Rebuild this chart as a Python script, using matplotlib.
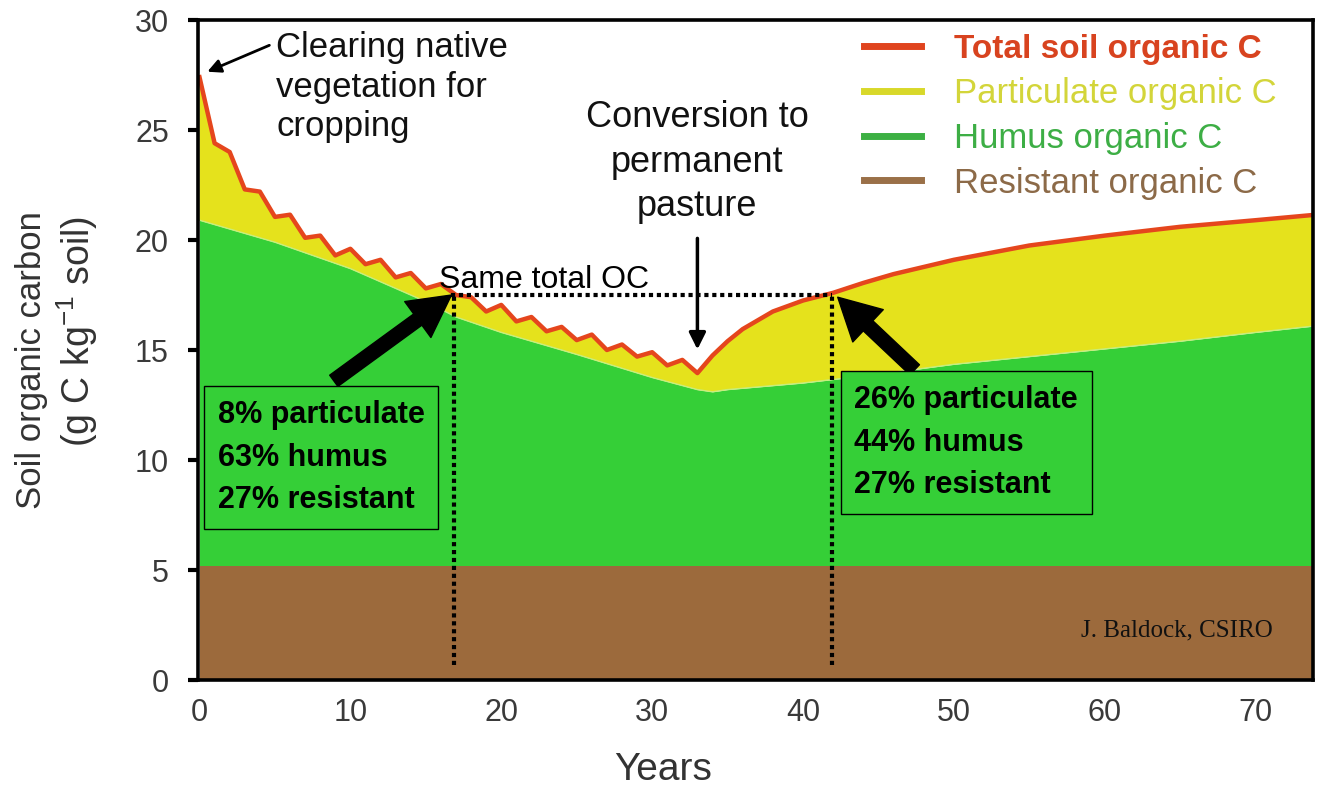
# Soil organic carbon pools after clearing and after conversion to pasture
import numpy as np
import matplotlib.pyplot as plt

plt.rcParams['font.family'] = ['Liberation Sans', 'DejaVu Sans']

# total soil organic C (g C / kg soil), sawtooth while cropping, then pasture recovery
yrs_tot = [0, 1, 2, 3, 4, 5, 6, 7, 8, 9, 10, 11, 12, 13, 14, 15, 16, 17, 18, 19,
           20, 21, 22, 23, 24, 25, 26, 27, 28, 29, 30, 31, 32, 33,
           34, 35, 36, 38, 40, 42, 44, 46, 50, 55, 60, 65, 70, 74]
total = [27.4, 24.4, 24.0, 22.3, 22.2, 21.05, 21.15, 20.1, 20.2, 19.3, 19.6, 18.9,
         19.1, 18.3, 18.5, 17.8, 18.0, 17.5, 17.4, 16.75, 17.05, 16.3, 16.5, 15.85,
         16.05, 15.45, 15.7, 15.0, 15.25, 14.7, 14.9, 14.3, 14.55, 13.95,
         14.75, 15.4, 15.95, 16.75, 17.25, 17.6, 18.05, 18.45, 19.1, 19.75, 20.2,
         20.6, 20.9, 21.15]

# top of humus layer (humus + resistant)
yrs_hum = [0, 5, 10, 15, 17, 20, 25, 30, 33, 34, 35, 40, 45, 50, 55, 60, 65, 70, 74]
humus_top = [20.9, 19.9, 18.7, 17.2, 16.5, 15.8, 14.8, 13.75, 13.2, 13.1, 13.2,
             13.5, 13.9, 14.35, 14.7, 15.05, 15.4, 15.8, 16.1]

# resistant pool, constant
yrs_res = [0, 74]
resistant = [5.2, 5.2]

# same total OC in both situations
same_oc = 17.5
yr_crop = 16.9
yr_past = 41.9

yticks = [0, 5, 10, 15, 20, 25, 30]
xticks = [0, 10, 20, 30, 40, 50, 60, 70]
legend_labels = ['Total soil organic C', 'Particulate organic C',
                 'Humus organic C', 'Resistant organic C']

red = '#e5461d'
yellow = '#e5e21c'
green = '#35cf37'
brown = '#9c6a3c'

fig = plt.figure(figsize=(13.17, 7.87), dpi=100)
ax = fig.add_axes([198/1317, 107/787, 1115/1317, 660/787])

yt = np.array(yrs_tot, float)
yh = np.array(yrs_hum, float)
ax.fill(np.concatenate([yt, yh[::-1]]),
        np.concatenate([total, np.array(humus_top)[::-1]]),
        color=yellow, lw=0, zorder=1)
ax.fill_between(yrs_hum, resistant[0], humus_top, color=green, lw=0, zorder=2)
ax.plot(yrs_hum, humus_top, color='#c8ee7a', lw=1, zorder=2.5)
ax.fill_between(yrs_res, 0, resistant, color=brown, lw=0, zorder=2)
ax.plot(yrs_tot, total, color=red, lw=3.2, zorder=4)

ax.set_xlim(-0.1, 73.8)
ax.set_ylim(0, 30)

# dotted guide lines
dot = (0, (1, 0.9))
ax.plot([yr_crop - 0.2, yr_past], [same_oc, same_oc], color='k', lw=3, ls=dot, zorder=5)
ax.plot([yr_crop, yr_crop], [0.7, same_oc], color='k', lw=3, ls=dot, zorder=5)
ax.plot([yr_past, yr_past], [0.7, same_oc], color='k', lw=3, ls=dot, zorder=5)

for s in ax.spines.values():
    s.set_linewidth(2.6)
    s.set_zorder(6)
ax.set_yticks(yticks)
ax.set_xticks(xticks)
ax.tick_params(axis='y', length=7, width=3, pad=14, labelsize=22, labelcolor='#3a3a3a')
ax.tick_params(axis='x', length=0, pad=13, labelsize=22, labelcolor='#3a3a3a')

fig.text(32/1317, 1 - 360/787, 'Soil organic carbon', rotation=90, fontsize=25,
         color='#333333', ha='center', va='center')
fig.text(77/1317, 1 - 331/787, r'(g C kg$^{\mathregular{-1}}$ soil)', rotation=90,
         fontsize=27, color='#333333', ha='center', va='center')
fig.text(663/1317, 1 - 770/787, 'Years', fontsize=28, color='#333333',
         ha='center', va='center')

# legend
handles = [plt.Line2D([], [], color=c, lw=5) for c in
           ['#e0441e', '#d8d82a', '#3cb043', '#9a7048']]
leg = ax.legend(handles, legend_labels, loc='upper left',
                bbox_to_anchor=(0.5975, 0.979), frameon=False, fontsize=25,
                handlelength=1.64, handletextpad=0.95, labelspacing=0.34,
                borderpad=0, borderaxespad=0,
                labelcolor=['#d8431f', '#d3d53a', '#3dae45', '#8c6a48'])
leg.get_texts()[0].set_fontweight('bold')
leg.get_texts()[0].set_fontsize(24)
leg.set_zorder(7)

# annotations
ax.annotate('', xy=(0.35, 27.6), xytext=(4.8, 28.9),
            arrowprops=dict(arrowstyle='-|>', lw=2, color='k', mutation_scale=20))
ax.text(5.1, 29.5, 'Clearing native\nvegetation for\ncropping', fontsize=25,
        color='#111111', ha='left', va='top', linespacing=1.25)

ax.text(33.0, 26.35, 'Conversion to\npermanent\npasture', fontsize=26,
        color='#111111', ha='center', va='top', linespacing=1.35)
ax.annotate('', xy=(33.0, 14.9), xytext=(33.0, 20.2),
            arrowprops=dict(arrowstyle='-|>', lw=2.5, color='k', mutation_scale=25))

ax.text(15.9, 17.8, 'Same total OC', fontsize=23,
        ha='left', va='baseline', zorder=6)

ax.annotate('', xy=(16.7, 17.5), xytext=(8.9, 13.6),
            arrowprops=dict(width=10, headwidth=32, headlength=30, shrink=0,
                            color='k'), zorder=6)
ax.annotate('', xy=(42.3, 17.4), xytext=(47.4, 14.1),
            arrowprops=dict(width=10, headwidth=32, headlength=30, shrink=0,
                            color='k'), zorder=6)

box = dict(boxstyle='square,pad=0.45', fc=green, ec='k', lw=1)
ax.text(1.2, 12.73, '8% particulate\n63% humus\n27% resistant', fontsize=22,
        fontweight='bold', ha='left', va='top', linespacing=1.55,
        bbox=box, zorder=6)
ax.text(43.4, 13.41, '26% particulate\n44% humus\n27% resistant', fontsize=22,
        fontweight='bold', ha='left', va='top', linespacing=1.55,
        bbox=box, zorder=6)

ax.text(71.1, 2.0, 'J. Baldock, CSIRO', fontsize=18, family='Liberation Serif',
        ha='right', va='baseline', color='#111111', zorder=6)

fig.savefig('out.png', dpi=100)
